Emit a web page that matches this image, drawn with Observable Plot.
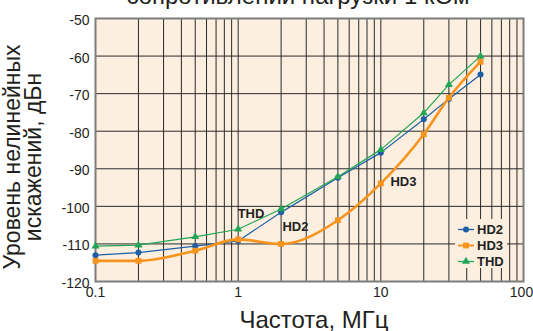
<!DOCTYPE html>
<html><head><meta charset="utf-8">
<script src="https://cdn.jsdelivr.net/npm/d3@7"></script>
<script src="https://cdn.jsdelivr.net/npm/@observablehq/plot@0.6"></script>
<style>
body{margin:0;background:#fff;}
#wrap{position:relative;width:533px;height:331px;overflow:hidden;}
</style></head><body><div id="wrap"></div>
<script>
// ---- data ----
const freq = [0.1, 0.2, 0.5, 1, 2, 5, 10, 20, 30, 50];
const hd2  = [-113.0, -112.3, -110.6, -109.2, -101.6, -92.4, -85.7, -76.8, -71.4, -64.9];
const hd3  = [-114.5, -114.5, -111.8, -108.8, -110.0, -103.7, -93.9, -80.8, -71.1, -61.5];
const thd  = [-110.6, -110.3, -108.1, -106.1, -100.7, -92.1, -84.9, -75.1, -67.6, -60.0];
const seriesNames = ["HD2", "HD3", "THD"];
const seriesColors = ["#1d5ea6", "#f7941d", "#23a556"];
const seriesSymbols = ["circle", "square", "triangle"];
const yTicks = [-50, -60, -70, -80, -90, -100, -110, -120];
const xTicks = [0.1, 1, 10, 100];
const xTickLabels = ["0.1", "1", "10", "100"];
const annoLabels = ["THD", "HD2", "HD3"];
const annoX = [1.23, 2.52, 14.4];
const annoY = [-101.9, -105.4, -93.5];
const titleText = "сопротивлении нагрузки 1 кОм";
const xTitle = "Частота, МГц";
const yTitleLines = ["Уровень нелинейных", "искажений, дБн"];

// ---- build ----
const seriesValues = [hd2, hd3, thd];
const rows = [];
seriesNames.forEach((s, k) => freq.forEach((f, i) => rows.push({series: s, f, v: seriesValues[k][i]})));
const xGrid = [];
for (const d of [0.1, 1, 10]) for (let m = 1; m <= 9; m++) xGrid.push(+(d * m).toPrecision(3));
xGrid.push(100);
const annos = annoLabels.map((t, i) => ({t, x: annoX[i], y: annoY[i]}));
const FONT = "'Liberation Sans', Arial, Helvetica, sans-serif";
const INK = "#231f20";
const BG = "#fdefe0";

const lineMark = (k, opts) => Plot.line(rows.filter(r => r.series === seriesNames[k]),
  {x: "f", y: "v", stroke: seriesColors[k], ...opts});
const dotMark = (k, r) => Plot.dot(rows.filter(r => r.series === seriesNames[k]),
  {x: "f", y: "v", fill: seriesColors[k], symbol: seriesSymbols[k], r});
const xLab = d => xTickLabels[xTicks.indexOf(d)];

const chart = Plot.plot({
  width: 533, height: 331,
  marginLeft: 95, marginRight: 10, marginTop: 18, marginBottom: 50,
  style: {fontFamily: FONT, fontSize: "14px", color: INK, background: "transparent"},
  x: {type: "log", domain: [0.1, 100]},
  y: {domain: [-120, -50]},
  marks: [
    Plot.frame({fill: BG, stroke: null}),
    Plot.ruleX(xGrid.filter(v => v > 0.1), {stroke: "#2a2a2a", strokeWidth: 1}),
    Plot.ruleY(yTicks.filter(v => v > -120 && v < -50), {stroke: "#2a2a2a", strokeWidth: 1}),
    Plot.frame({stroke: "#7d7d7d", strokeWidth: 2}),
    Plot.axisY({ticks: yTicks, tickSize: 0, tickPadding: 6, dy: 2, fontSize: 14, label: null,
      tickFormat: d => String(d)}),
    Plot.axisX({ticks: xTicks.slice(0, 3), tickSize: 0, tickPadding: 6, fontSize: 14, label: null,
      tickFormat: xLab}),
    Plot.axisX({ticks: xTicks.slice(3), tickSize: 0, tickPadding: 6, dx: -2, fontSize: 14, label: null,
      tickFormat: xLab}),
    lineMark(0, {strokeWidth: 1.2}),
    dotMark(0, 3),
    lineMark(1, {strokeWidth: 2.6, curve: "monotone-x"}),
    dotMark(1, 3.3),
    lineMark(2, {strokeWidth: 1.2}),
    dotMark(2, 3),
    Plot.text(annos, {x: "x", y: "y", text: "t", fontWeight: "bold", fontSize: 13, fill: INK})
  ]
});

const svg = d3.select(chart);
svg.style("overflow", "visible");
// title (cut off at top, as in the reference)
svg.append("text").attr("x", 298).attr("y", 4).attr("text-anchor", "middle")
  .attr("font-family", FONT).attr("font-size", 24).attr("fill", INK).text(titleText);
// x title
svg.append("text").attr("x", 314).attr("y", 328).attr("text-anchor", "middle")
  .attr("font-family", FONT).attr("font-size", 24).attr("fill", INK).text(xTitle);
// y title
const yt = svg.append("text").attr("transform", "translate(20,157) rotate(-90)")
  .attr("text-anchor", "middle").attr("font-family", FONT).attr("font-size", 23).attr("fill", INK);
yTitleLines.forEach((l, i) => yt.append("tspan").attr("x", 0).attr("dy", i ? 21 : 0).text(l));

// legend
const lg = svg.append("g").attr("transform", "translate(455,219)");
lg.append("rect").attr("width", 52).attr("height", 49).attr("fill", BG);
const symMap = {circle: d3.symbolCircle, square: d3.symbolSquare, triangle: d3.symbolTriangle};
seriesNames.forEach((s, k) => {
  const y = 10.5 + k * 16;
  const g = lg.append("g").attr("transform", `translate(0,${y})`);
  g.append("line").attr("x1", 3).attr("x2", 19).attr("y1", 0).attr("y2", 0)
    .attr("stroke", seriesColors[k]).attr("stroke-width", k === 1 ? 2 : 1.3);
  const r = k === 1 ? 3.3 : 3;
  g.append("path").attr("transform", "translate(11,0)")
    .attr("d", d3.symbol(symMap[seriesSymbols[k]], Math.PI * r * r)()).attr("fill", seriesColors[k]);
  g.append("text").attr("x", 22).attr("dy", "0.36em").attr("text-anchor", "start")
    .attr("font-family", FONT).attr("font-size", 13).attr("font-weight", "bold")
    .attr("fill", INK).text(s);
});

document.getElementById("wrap").appendChild(chart);
</script>
</body></html>
